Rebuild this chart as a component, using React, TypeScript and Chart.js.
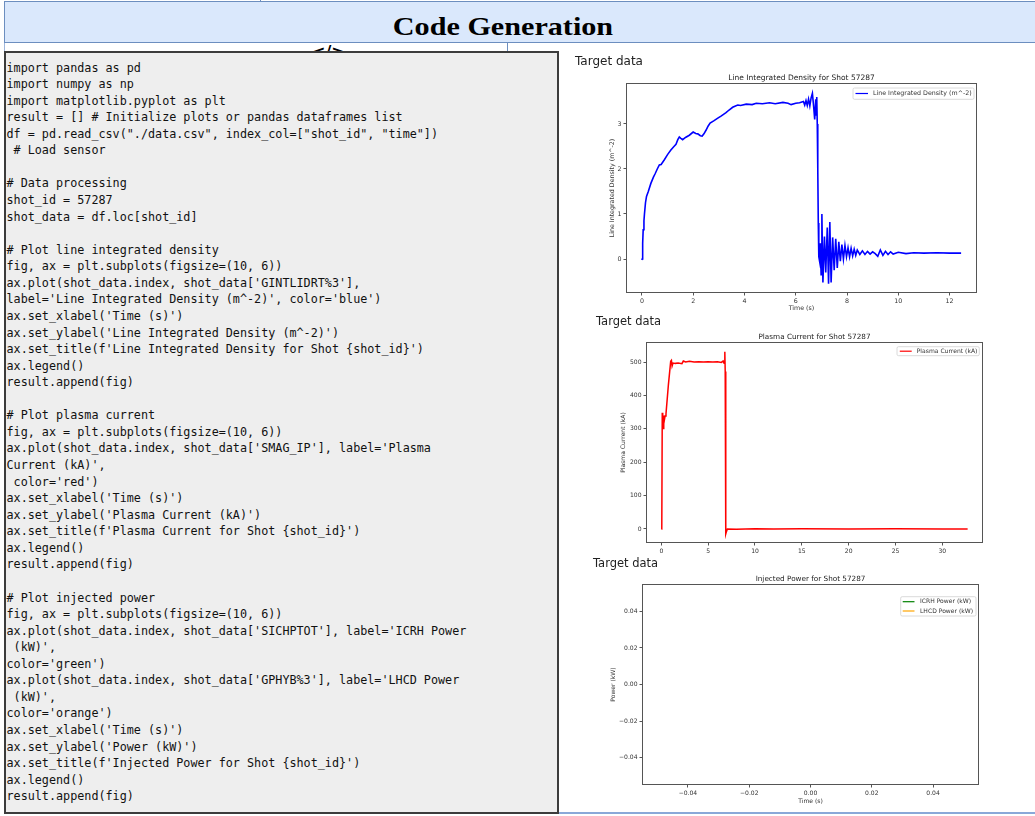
import React, { useEffect, useRef } from "react";
import { Chart, registerables } from "chart.js";
Chart.register(...registerables);

// ---------------- data ----------------
const densityTime = [0, 0.01, 0.03, 0.05, 0.08, 0.1, 0.14, 0.18, 0.25, 0.35, 0.45, 0.52, 0.6, 0.68, 0.75, 0.87, 1.0, 1.13, 1.25, 1.33, 1.4, 1.46, 1.52, 1.59, 1.7, 1.85, 2.0, 2.1, 2.18, 2.28, 2.35, 2.42, 2.5, 2.58, 2.66, 2.8, 2.96, 3.1, 3.28, 3.4, 3.54, 3.65, 3.74, 3.85, 4.07, 4.3, 4.46, 4.7, 4.98, 5.2, 5.5, 5.7, 5.82, 6.0, 6.15, 6.3, 6.35, 6.4, 6.45, 6.5, 6.55, 6.6, 6.65, 6.7, 6.74, 6.78, 6.8, 6.82, 6.84, 6.86, 6.88, 6.9, 6.93, 6.96, 6.99, 7.02, 7.06, 7.12, 7.17, 7.23, 7.28, 7.33, 7.38, 7.44, 7.5, 7.56, 7.62, 7.68, 7.74, 7.8, 7.86, 7.92, 7.98, 8.04, 8.1, 8.16, 8.22, 8.28, 8.34, 8.4, 8.5, 8.6, 8.7, 8.8, 8.9, 9.0, 9.1, 9.2, 9.3, 9.4, 9.5, 9.6, 9.7, 9.8, 10.0, 10.3, 10.6, 11.0, 11.5, 12.0, 12.45];
const densityValues = [-0.02, 0.0, 0.35, 0.65, 0.85, 1.0, 1.25, 1.39, 1.5, 1.68, 1.82, 1.9, 2.0, 2.09, 2.1, 2.2, 2.32, 2.42, 2.5, 2.55, 2.65, 2.71, 2.68, 2.65, 2.7, 2.75, 2.82, 2.79, 2.78, 2.74, 2.73, 2.78, 2.86, 2.95, 3.02, 3.07, 3.13, 3.18, 3.25, 3.31, 3.37, 3.4, 3.42, 3.41, 3.44, 3.43, 3.46, 3.45, 3.47, 3.45, 3.48, 3.46, 3.43, 3.46, 3.47, 3.5, 3.42, 3.52, 3.41, 3.55, 3.4, 3.58, 3.68, 3.38, 3.1, 3.55, 3.2, 3.6, 3.0, 2.0, 0.8, 0.05, -0.05, 0.35, -0.35, 1.0, -0.52, 0.5, -0.3, 0.7, -0.55, 0.82, -0.52, 0.48, -0.25, 0.45, -0.2, 0.38, -0.05, 0.32, 0.0, 0.3, 0.05, 0.25, 0.05, 0.24, 0.07, 0.22, 0.08, 0.2, 0.1, 0.18, 0.1, 0.17, 0.11, 0.16, 0.12, 0.06, 0.2, 0.08, 0.17, 0.1, 0.16, 0.11, 0.15, 0.12, 0.14, 0.13, 0.14, 0.13, 0.13];

const currentTime = [0, 0.05, 0.1, 0.15, 0.2, 0.26, 0.32, 0.4, 0.5, 0.75, 1.0, 1.08, 1.15, 1.25, 1.5, 1.8, 2.2, 2.35, 2.6, 3.0, 3.5, 4.0, 4.5, 5.0, 5.5, 6.0, 6.4, 6.6, 6.7, 6.78, 6.82, 6.86, 6.9, 6.95, 7.05, 8, 9, 10, 12, 15, 20, 25, 30, 32.7];
const currentValues = [0, 2, 348, 330, 301, 340, 325, 338, 345, 430, 502, 505, 488, 497, 496, 497, 495, 503, 500, 502, 500, 501, 500, 501, 500, 501, 499, 503, 496, 531, 472, 250, -15, -8, 0, -1, 0, 1, 0, 1, 0, 1, 0, 0];

const powerTime: number[] = [];
const icrhPower: number[] = [];
const lhcdPower: number[] = [];

const densityXTicks = [0, 2, 4, 6, 8, 10, 12];
const densityYTicks = [0, 1, 2, 3];
const currentXTicks = [0, 5, 10, 15, 20, 25, 30];
const currentYTicks = [0, 100, 200, 300, 400, 500];
const powerXTicks = [-0.04, -0.02, 0, 0.02, 0.04];
const powerYTicks = [-0.04, -0.02, 0, 0.02, 0.04];

const codeLines = [
  "import pandas as pd",
  "import numpy as np",
  "import matplotlib.pyplot as plt",
  "result = [] # Initialize plots or pandas dataframes list",
  "df = pd.read_csv(\"./data.csv\", index_col=[\"shot_id\", \"time\"])",
  " # Load sensor",
  "",
  "# Data processing",
  "shot_id = 57287",
  "shot_data = df.loc[shot_id]",
  "",
  "# Plot line integrated density",
  "fig, ax = plt.subplots(figsize=(10, 6))",
  "ax.plot(shot_data.index, shot_data['GINTLIDRT%3'],",
  "label='Line Integrated Density (m^-2)', color='blue')",
  "ax.set_xlabel('Time (s)')",
  "ax.set_ylabel('Line Integrated Density (m^-2)')",
  "ax.set_title(f'Line Integrated Density for Shot {shot_id}')",
  "ax.legend()",
  "result.append(fig)",
  "",
  "# Plot plasma current",
  "fig, ax = plt.subplots(figsize=(10, 6))",
  "ax.plot(shot_data.index, shot_data['SMAG_IP'], label='Plasma",
  "Current (kA)',",
  " color='red')",
  "ax.set_xlabel('Time (s)')",
  "ax.set_ylabel('Plasma Current (kA)')",
  "ax.set_title(f'Plasma Current for Shot {shot_id}')",
  "ax.legend()",
  "result.append(fig)",
  "",
  "# Plot injected power",
  "fig, ax = plt.subplots(figsize=(10, 6))",
  "ax.plot(shot_data.index, shot_data['SICHPTOT'], label='ICRH Power",
  " (kW)',",
  "color='green')",
  "ax.plot(shot_data.index, shot_data['GPHYB%3'], label='LHCD Power",
  " (kW)',",
  "color='orange')",
  "ax.set_xlabel('Time (s)')",
  "ax.set_ylabel('Power (kW)')",
  "ax.set_title(f'Injected Power for Shot {shot_id}')",
  "ax.legend()",
  "result.append(fig)",
];

// ---------------- chart component ----------------
type Series = { label: string; color: string; xs: number[]; ys: number[] };
type Props = {
  box: { left: number; top: number; width: number; height: number; clip: number };
  plot: { left: number; top: number; right: number; bottom: number };
  xRange: [number, number];
  yRange: [number, number];
  xTicks: number[];
  yTicks: number[];
  fmt: (v: number) => string;
  series: Series[];
  title: string;
  xlabel: string;
  ylabel: string;
  ylabelX: number;
  xlabelY: number;
  titleSize: number;
  tickSize: number;
  lineWidth: number;
  legend: { left: number; top: number; right: number; bottom: number; lineX1: number; lineX2: number; textX: number; rows: number[] };
};

const FONT = "'DejaVu Sans'";

function MplChart(p: Props) {
  const ref = useRef<HTMLCanvasElement>(null);
  useEffect(() => {
    const { box, plot } = p;
    const ox = box.left;
    const oy = box.top;
    const overlay = {
      id: "mplOverlay",
      afterDraw(chart: any) {
        const ctx = chart.ctx as CanvasRenderingContext2D;
        const a = chart.chartArea;
        ctx.save();
        // frame
        ctx.strokeStyle = "#555";
        ctx.lineWidth = 1;
        ctx.strokeRect(a.left + 0.5, a.top + 0.5, a.right - a.left - 1, a.bottom - a.top - 1);
        // title
        ctx.fillStyle = "#222";
        ctx.font = `${p.titleSize}px ${FONT}`;
        ctx.textAlign = "center";
        ctx.textBaseline = "alphabetic";
        ctx.fillText(p.title, (a.left + a.right) / 2, a.top - 3.5);
        // axis labels
        ctx.font = `${p.tickSize}px ${FONT}`;
        ctx.fillStyle = "#333";
        ctx.textBaseline = "middle";
        ctx.fillText(p.xlabel, (a.left + a.right) / 2, p.xlabelY - oy);
        ctx.save();
        ctx.translate(p.ylabelX - ox, (a.top + a.bottom) / 2);
        ctx.rotate(-Math.PI / 2);
        ctx.fillText(p.ylabel, 0, 0);
        ctx.restore();
        // legend
        const L = p.legend;
        const lx = L.left - ox, ly = L.top - oy, lw = L.right - L.left, lh = L.bottom - L.top;
        ctx.beginPath();
        const r = 1.5;
        ctx.moveTo(lx + r, ly);
        ctx.lineTo(lx + lw - r, ly);
        ctx.quadraticCurveTo(lx + lw, ly, lx + lw, ly + r);
        ctx.lineTo(lx + lw, ly + lh - r);
        ctx.quadraticCurveTo(lx + lw, ly + lh, lx + lw - r, ly + lh);
        ctx.lineTo(lx + r, ly + lh);
        ctx.quadraticCurveTo(lx, ly + lh, lx, ly + lh - r);
        ctx.lineTo(lx, ly + r);
        ctx.quadraticCurveTo(lx, ly, lx + r, ly);
        ctx.closePath();
        ctx.fillStyle = "rgba(255,255,255,0.8)";
        ctx.fill();
        ctx.strokeStyle = "#d0d0d0";
        ctx.lineWidth = 0.8;
        ctx.stroke();
        p.series.forEach((s, i) => {
          const y = L.rows[i] - oy;
          ctx.strokeStyle = s.color;
          ctx.lineWidth = 1.2;
          ctx.beginPath();
          ctx.moveTo(L.lineX1 - ox, y);
          ctx.lineTo(L.lineX2 - ox, y);
          ctx.stroke();
          ctx.fillStyle = "#333";
          ctx.font = `${p.tickSize}px ${FONT}`;
          ctx.textAlign = "left";
          ctx.textBaseline = "middle";
          ctx.fillText(s.label, L.textX - ox, y);
        });
        ctx.restore();
      },
    };
    const tickFont = { family: "DejaVu Sans", size: p.tickSize };
    const chart = new Chart(ref.current as HTMLCanvasElement, {
      type: "line",
      data: {
        datasets: p.series.map((s) => ({
          label: s.label,
          data: s.xs.map((x, i) => ({ x, y: s.ys[i] })),
          borderColor: s.color,
          backgroundColor: s.color,
          borderWidth: p.lineWidth,
          pointRadius: 0,
          tension: 0,
          fill: false,
        })),
      },
      options: {
        responsive: false,
        animation: false,
        devicePixelRatio: 1,
        layout: {
          padding: {
            left: 0,
            top: plot.top - box.top,
            right: box.left + box.width - plot.right,
            bottom: 0,
          },
        },
        plugins: {
          legend: { display: false },
          title: { display: false },
          tooltip: { enabled: false },
        },
        scales: {
          x: {
            type: "linear",
            min: p.xRange[0],
            max: p.xRange[1],
            afterBuildTicks: (s: any) => {
              s.ticks = p.xTicks.map((v) => ({ value: v }));
            },
            afterFit: (s: any) => {
              s.height = box.top + box.height - plot.bottom;
            },
            ticks: {
              font: tickFont,
              color: "#333",
              padding: 2,
              autoSkip: false,
              maxRotation: 0,
              minRotation: 0,
              callback: (v: any) => p.fmt(Number(v)),
            },
            grid: { display: true, drawOnChartArea: false, drawTicks: true, tickLength: 2.5, color: "#555" },
            border: { display: false },
          },
          y: {
            type: "linear",
            min: p.yRange[0],
            max: p.yRange[1],
            afterBuildTicks: (s: any) => {
              s.ticks = p.yTicks.map((v) => ({ value: v }));
            },
            afterFit: (s: any) => {
              s.width = plot.left - box.left;
            },
            ticks: {
              font: tickFont,
              color: "#333",
              padding: 2,
              autoSkip: false,
              callback: (v: any) => p.fmt(Number(v)),
            },
            grid: { display: true, drawOnChartArea: false, drawTicks: true, tickLength: 2.5, color: "#555" },
            border: { display: false },
          },
        },
      },
      plugins: [overlay],
    } as any);
    return () => chart.destroy();
  }, []);
  const { box } = p;
  return (
    <div
      style={{
        position: "absolute",
        left: box.left,
        top: box.top,
        width: box.width,
        height: box.clip,
        overflow: "hidden",
        background: "#fff",
      }}
    >
      <canvas ref={ref} width={box.width} height={box.height} style={{ width: box.width, height: box.height, display: "block" }} />
    </div>
  );
}

const intFmt = (v: number) => String(Math.round(v));
const decFmt = (v: number) => (v < -1e-9 ? "\u2212" : "") + Math.abs(v).toFixed(2);

const targetLabel = (left: number, top: number, size: number) => (
  <div
    style={{
      position: "absolute",
      left,
      top,
      fontFamily: FONT,
      fontSize: size,
      lineHeight: `${size}px`,
      color: "#222",
      whiteSpace: "nowrap",
      zIndex: 5,
    }}
  >
    Target data
  </div>
);

export default function App() {
  const lineH = 16.57;
  return (
    <div style={{ position: "absolute", left: 0, top: 0, width: 1035, height: 816, overflow: "hidden", background: "#fff" }}>
      {/* header band */}
      <div style={{ position: "absolute", left: 260, top: 0, width: 1, height: 2, background: "#6c8ebf" }} />
      <div
        style={{
          position: "absolute",
          left: 4,
          top: 1,
          width: 1040,
          height: 42,
          boxSizing: "border-box",
          background: "#dae8fc",
          border: "1px solid #6c8ebf",
        }}
      />
      <div
        style={{
          position: "absolute",
          left: 0,
          top: 13.9,
          width: 1006,
          textAlign: "center",
          fontFamily: "'Liberation Serif', 'Times New Roman', serif",
          fontWeight: "bold",
          fontSize: 26,
          lineHeight: "26px",
          color: "#000",
          transform: "scaleX(1.16)",
          transformOrigin: "503px 0",
        }}
      >
        Code Generation
      </div>
      <div style={{ position: "absolute", left: 4, top: 43, width: 1, height: 9, background: "#9fb6dc" }} />
      <div style={{ position: "absolute", left: 507, top: 43, width: 1, height: 10, background: "#6c8ebf" }} />
      <div
        style={{
          position: "absolute",
          left: 312,
          top: 44,
          fontFamily: "'DejaVu Sans'",
          fontWeight: "bold",
          fontSize: 16,
          lineHeight: "16px",
          color: "#000",
        }}
      >
        &lt;/&gt;
      </div>

      {/* code box */}
      <div
        style={{
          position: "absolute",
          left: 4,
          top: 51,
          width: 555,
          height: 763,
          boxSizing: "border-box",
          border: "2px solid #3c3c3c",
          background: "#eeeeee",
          paddingTop: 6.5,
          paddingLeft: 0.5,
          overflow: "hidden",
          zIndex: 3,
        }}
      >
        {codeLines.map((ln, i) => (
          <div
            key={i}
            style={{
              fontFamily: "'DejaVu Sans Mono', monospace",
              fontSize: 11.75,
              lineHeight: `${lineH}px`,
              height: lineH,
              whiteSpace: "pre",
              color: "#111",
            }}
          >
            {ln}
          </div>
        ))}
      </div>

      {/* charts */}
      <MplChart
        box={{ left: 569, top: 50, width: 453, height: 272, clip: 262 }}
        plot={{ left: 626, top: 83, right: 977, bottom: 293 }}
        xRange={[-0.62, 13.07]}
        yRange={[-0.755, 3.91]}
        xTicks={densityXTicks}
        yTicks={densityYTicks}
        fmt={intFmt}
        series={[{ label: "Line Integrated Density (m^-2)", color: "#0000ff", xs: densityTime, ys: densityValues }]}
        title="Line Integrated Density for Shot 57287"
        xlabel="Time (s)"
        ylabel="Line Integrated Density (m^-2)"
        ylabelX={612}
        xlabelY={308.5}
        titleSize={7.5}
        tickSize={6.3}
        lineWidth={1.6}
        legend={{ left: 853, top: 88, right: 974, bottom: 99.3, lineX1: 855.5, lineX2: 868, textX: 873, rows: [93.5] }}
      />
      <MplChart
        box={{ left: 592, top: 311, width: 435, height: 261, clip: 245 }}
        plot={{ left: 646, top: 342, right: 983, bottom: 543 }}
        xRange={[-1.635, 34.34]}
        yRange={[-42, 560]}
        xTicks={currentXTicks}
        yTicks={currentYTicks}
        fmt={intFmt}
        series={[{ label: "Plasma Current (kA)", color: "#ff0000", xs: currentTime, ys: currentValues }]}
        title="Plasma Current for Shot 57287"
        xlabel="Time (s)"
        ylabel="Plasma Current (kA)"
        ylabelX={623}
        xlabelY={561}
        titleSize={7.25}
        tickSize={6.05}
        lineWidth={1.5}
        legend={{ left: 897, top: 346.7, right: 979.3, bottom: 355.7, lineX1: 899.8, lineX2: 911.7, textX: 916.7, rows: [351.2] }}
      />
      <MplChart
        box={{ left: 588, top: 556, width: 435, height: 257, clip: 257 }}
        plot={{ left: 642, top: 584, right: 979, bottom: 785 }}
        xRange={[-0.055, 0.055]}
        yRange={[-0.055, 0.055]}
        xTicks={powerXTicks}
        yTicks={powerYTicks}
        fmt={decFmt}
        series={[
          { label: "ICRH Power (kW)", color: "#008000", xs: powerTime, ys: icrhPower },
          { label: "LHCD Power (kW)", color: "#ffa500", xs: powerTime, ys: lhcdPower },
        ]}
        title="Injected Power for Shot 57287"
        xlabel="Time (s)"
        ylabel="Power (kW)"
        ylabelX={613}
        xlabelY={801}
        titleSize={7.25}
        tickSize={6.05}
        lineWidth={1.5}
        legend={{ left: 900.7, top: 596.7, right: 976, bottom: 616, lineX1: 902.7, lineX2: 914.5, textX: 920, rows: [601.7, 611] }}
      />

      {targetLabel(575, 55.4, 12)}
      {targetLabel(596, 315.5, 11.5)}
      {targetLabel(593, 557.5, 11.5)}

      {/* bottom border of right panel */}
      <div style={{ position: "absolute", left: 558, top: 812, width: 477, height: 2, background: "#8aa8d8", zIndex: 2 }} />
    </div>
  );
}
